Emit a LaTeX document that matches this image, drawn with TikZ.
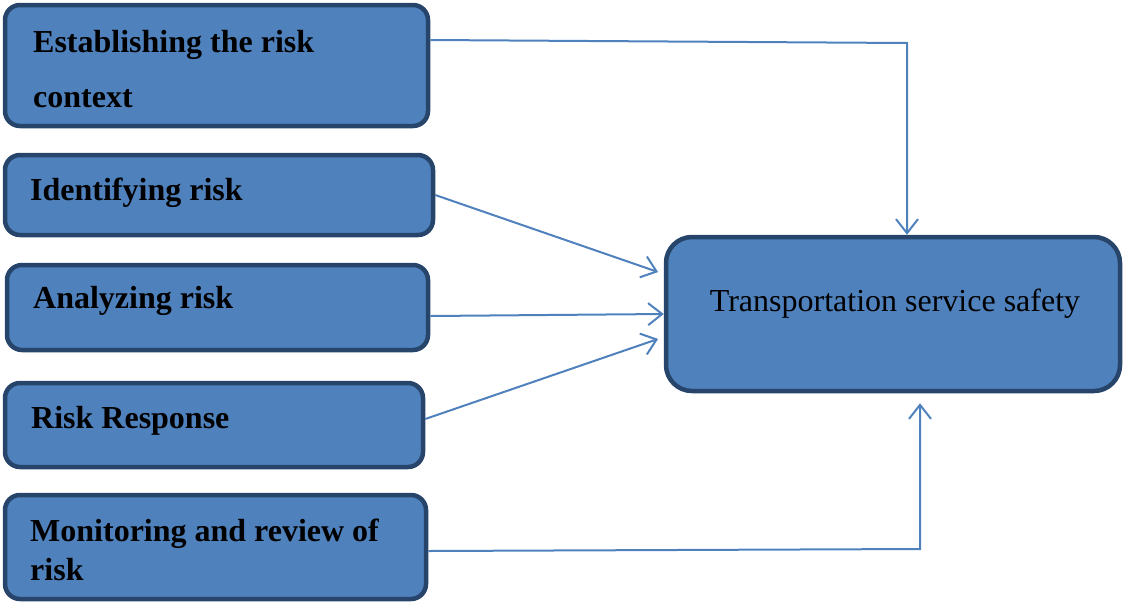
\documentclass[tikz,border=0pt]{standalone}
\usepackage{fontspec}
\setmainfont{Liberation Serif}
\usetikzlibrary{arrows.meta,calc}
\definecolor{boxfill}{HTML}{4F81BD}
\definecolor{boxdraw}{HTML}{27446A}
\definecolor{linec}{HTML}{4F81BD}
\tikzset{
  box/.style={draw=boxdraw, fill=boxfill, line width=4.5pt, rounded corners=15pt, inner sep=0pt},
  lbl/.style={font=\bfseries\fontsize{32}{38}\selectfont, inner sep=0pt, anchor=base west},
  conn/.style={draw=linec, line width=2pt, -{Straight Barb[length=14pt,width=22pt,line width=2pt]}},
}
\begin{document}
\begin{tikzpicture}[x=1pt,y=-1pt]
\useasboundingbox (0,0) rectangle (1123,603);
% boxes
\node[box, minimum width=423pt, minimum height=121pt] (b1) at (216.5,65.5) {};
\node[box, minimum width=428pt, minimum height=80pt] (b2) at (219,195) {};
\node[box, minimum width=421pt, minimum height=85pt] (b3) at (217.5,307.5) {};
\node[box, minimum width=418pt, minimum height=84pt] (b4) at (214,425) {};
\node[box, minimum width=421pt, minimum height=104pt] (b5) at (215.5,547) {};
\node[box, rounded corners=26pt, minimum width=454pt, minimum height=154pt] (t) at (893,314) {};
% labels
\node[lbl] (l1a) at (33,52) {Establishing the risk};
\node[lbl] (l1b) at (33,107) {context};
\node[lbl] (l2) at (30,200) {Identifying risk};
\node[lbl] (l3) at (33,308) {Analyzing risk};
\node[lbl] (l4) at (31,428) {Risk Response};
\node[lbl] (l5a) at (30,541) {Monitoring and review of};
\node[lbl] (l5b) at (30,580) {risk};
\node[font=\fontsize{32}{38}\selectfont, inner sep=0pt, anchor=base] (tl) at (895,311) {Transportation service safety};
% connectors
\coordinate (k1) at (907,43);
\coordinate (k5) at (920,549);
\draw[conn] ([yshift=25.5pt]b1.east) -- (k1) -- (k1 |- t.north);
\draw[conn, shorten >=6pt] (b2.east) -- ([yshift=40pt]t.west);
\draw[conn] ([yshift=-8.5pt]b3.east) -- (t.west);
\draw[conn, shorten >=6pt] ([yshift=6pt]b4.east) -- ([yshift=-23pt]t.west);
\draw[conn, shorten >=10pt] ([yshift=-4pt]b5.east) -- (k5) -- (k5 |- t.south);
\end{tikzpicture}
\end{document}
